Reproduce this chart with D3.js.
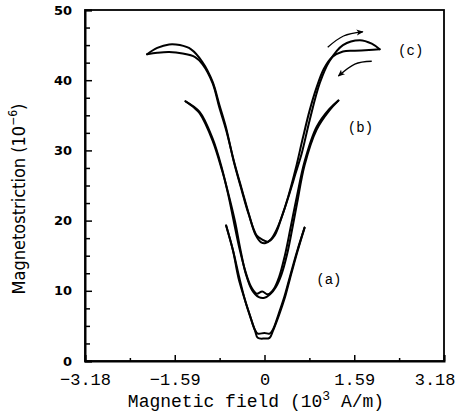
<!DOCTYPE html>
<html>
<head>
<meta charset="utf-8">
<script src="https://cdn.jsdelivr.net/npm/d3@7"></script>
<style>
  body { margin: 0; background: #fff; }
  svg { display: block; }
</style>
</head>
<body>
<div id="chart"></div>
<script>
// ---- data (field in 10^3 A/m, magnetostriction in 10^-6) ----
// curve (c): two sweep branches forming the butterfly loop
const cUpX   = [-2.08, -1.90, -1.69, -1.45, -1.23, -1.10, -0.92, -0.80, -0.68, -0.53, -0.40, -0.28, -0.16, -0.06, 0.02, 0.12, 0.22, 0.33, 0.44, 0.55, 0.66, 0.80, 0.98, 1.15, 1.39, 1.69, 1.90, 2.04];
const cUpY   = [43.7, 43.9, 44.0, 43.8, 43.3, 42.3, 39.6, 36.1, 32.9, 28.1, 24.4, 21.0, 18.0, 16.9, 16.8, 17.4, 18.8, 21.1, 23.8, 26.7, 29.6, 34.3, 39.6, 42.7, 45.0, 45.7, 45.2, 44.4];
const cDownX = [2.04, 1.85, 1.60, 1.39, 1.20, 1.05, 0.92, 0.80, 0.68, 0.55, 0.42, 0.30, 0.18, 0.06, -0.04, -0.14, -0.28, -0.40, -0.55, -0.68, -0.80, -0.92, -1.10, -1.30, -1.50, -1.69, -1.90, -2.08];
const cDownY = [44.4, 44.3, 44.2, 44.1, 43.3, 41.6, 38.9, 35.7, 31.8, 27.3, 23.4, 20.4, 17.9, 17.0, 17.3, 17.9, 20.9, 24.2, 28.6, 33.2, 36.5, 39.8, 42.6, 44.4, 45.0, 45.1, 44.6, 43.7];

// curve (b)
const bUpX   = [-1.40, -1.25, -1.15, -0.92, -0.75, -0.62, -0.52, -0.43, -0.33, -0.22, -0.10, 0.00, 0.10, 0.20, 0.30, 0.40, 0.50, 0.58, 0.71, 0.92, 1.15, 1.31];
const bUpY   = [37.0, 36.1, 35.3, 31.4, 27.1, 23.2, 19.8, 16.0, 12.4, 10.1, 9.1, 9.0, 9.5, 10.5, 12.3, 15.2, 19.2, 22.6, 27.9, 32.9, 35.7, 37.1];
const bDownX = [1.31, 1.15, 0.92, 0.71, 0.57, 0.46, 0.36, 0.26, 0.16, 0.06, -0.04, -0.14, -0.24, -0.34, -0.44, -0.54, -0.64, -0.76, -0.92, -1.15, -1.40];
const bDownY = [37.1, 35.9, 33.3, 28.4, 23.3, 18.9, 15.0, 12.0, 10.2, 9.5, 9.9, 9.6, 10.6, 12.8, 15.9, 19.7, 23.6, 27.6, 31.7, 35.5, 37.0];

// curve (a)
const aUpX   = [-0.68, -0.55, -0.45, -0.34, -0.24, -0.17, -0.12, 0.00, 0.09, 0.15, 0.26, 0.36, 0.45, 0.58, 0.71];
const aUpY   = [19.3, 15.5, 12.0, 8.5, 6.0, 4.4, 3.3, 3.2, 3.3, 4.3, 6.6, 9.0, 11.7, 15.5, 19.0];
const aDownX = [0.71, 0.58, 0.45, 0.35, 0.25, 0.15, 0.09, 0.00, -0.12, -0.18, -0.25, -0.35, -0.46, -0.56, -0.68];
const aDownY = [19.0, 15.7, 12.0, 9.1, 6.7, 4.5, 3.9, 4.0, 3.9, 4.6, 6.3, 8.8, 11.8, 15.8, 19.3];

// curve labels
const curveLabels = ['(a)', '(b)', '(c)'];
const labelX = [1.14, 1.70, 2.59];
const labelY = [11.6, 33.3, 44.3];

// sweep direction arrows near the top of curve (c)
const arrowUpX = [1.12, 1.40, 1.74];
const arrowUpY = [44.7, 46.3, 46.9];
const arrowDownX = [1.90, 1.60, 1.31];
const arrowDownY = [42.7, 42.3, 40.6];

// axes
const xMajorTicks = [-3.18, -1.59, 0, 1.59, 3.18];
const xTickLabels = ['\u22123.18', '\u22121.59', '0', '1.59', '3.18'];
const xMinorTicks = [-2.385, -0.795, 0.795, 2.385];
const yMajorTicks = [0, 10, 20, 30, 40, 50];
const yMinorTicks = [2.5, 5, 7.5, 12.5, 15, 17.5, 22.5, 25, 27.5, 32.5, 35, 37.5, 42.5, 45, 47.5];

// ---- layout ----
const W = 458, H = 416;
const margin = {top: 10, right: 14, bottom: 55, left: 85};
const width = W - margin.left - margin.right;
const height = H - margin.top - margin.bottom;

const svg = d3.select('#chart').append('svg')
    .attr('width', W)
    .attr('height', H);

const g = svg.append('g')
    .attr('transform', 'translate(' + margin.left + ',' + margin.top + ')');

const xScale = d3.scaleLinear().domain([-3.18, 3.18]).range([0, width]);
const yScale = d3.scaleLinear().domain([0, 50]).range([height, 0]);

// frame
g.append('rect')
    .attr('x', 0).attr('y', 0)
    .attr('width', width).attr('height', height)
    .attr('fill', 'none')
    .attr('stroke', '#000')
    .attr('stroke-width', 1.8);

// x axis (ticks pointing inward)
const xAxis = d3.axisBottom(xScale)
    .tickValues(xMajorTicks)
    .tickSize(-6)
    .tickPadding(12)
    .tickFormat((d, i) => xTickLabels[i]);

const xAxisGroup = g.append('g')
    .attr('class', 'x-axis')
    .attr('transform', 'translate(0,' + height + ')')
    .call(xAxis);

xAxisGroup.select('.domain').attr('stroke-width', 2);
xAxisGroup.selectAll('.tick line').attr('stroke-width', 1.5);
xAxisGroup.selectAll('.tick text')
    .attr('font-family', 'Liberation Mono, DejaVu Sans Mono, monospace')
    .attr('font-size', 17)
    .attr('fill', '#000');

// last label sits inside the window, right-aligned like the original
xAxisGroup.selectAll('.tick text')
    .filter((d, i) => i === xMajorTicks.length - 1)
    .attr('text-anchor', 'end')
    .attr('x', 11);

g.append('g')
    .attr('transform', 'translate(0,' + height + ')')
    .call(d3.axisBottom(xScale).tickValues(xMinorTicks).tickSize(-3).tickFormat(''))
    .call(s => s.select('.domain').remove())
    .selectAll('.tick line').attr('stroke-width', 1.5);

// y axis
const yAxis = d3.axisLeft(yScale)
    .tickValues(yMajorTicks)
    .tickSize(-7)
    .tickPadding(13);

const yAxisGroup = g.append('g')
    .attr('class', 'y-axis')
    .call(yAxis);

yAxisGroup.select('.domain').attr('stroke-width', 2);
yAxisGroup.selectAll('.tick line').attr('stroke-width', 1.5);
yAxisGroup.selectAll('.tick text')
    .attr('font-family', 'DejaVu Sans, sans-serif')
    .attr('font-weight', 'bold')
    .attr('font-size', 13)
    .attr('fill', '#000');

g.append('g')
    .call(d3.axisLeft(yScale).tickValues(yMinorTicks).tickSize(-5).tickFormat(''))
    .call(s => s.select('.domain').remove())
    .selectAll('.tick line').attr('stroke-width', 1.5);

// axis titles
const xTitle = svg.append('text')
    .attr('x', 256)
    .attr('y', 407)
    .attr('text-anchor', 'middle')
    .attr('font-family', 'Liberation Mono, DejaVu Sans Mono, monospace')
    .attr('font-size', 18)
    .attr('fill', '#000');
xTitle.append('tspan').text('Magnetic field (10');
xTitle.append('tspan').attr('dy', -7).attr('font-size', 13).text('3');
xTitle.append('tspan').attr('dy', 7).text(' A/m)');

const yTitle = svg.append('text')
    .attr('transform', 'translate(25,199) rotate(-90)')
    .attr('text-anchor', 'middle')
    .attr('font-family', 'Liberation Sans Narrow, DejaVu Sans Condensed, sans-serif')
    .attr('font-stretch', 'condensed')
    .attr('font-size', 18)
    .attr('fill', '#000');
yTitle.append('tspan').text('Magnetostriction (10');
yTitle.append('tspan').attr('dy', -8).attr('font-size', 12).text('\u22126');
yTitle.append('tspan').attr('dy', 8).text(')');

// curves
const line = d3.line()
    .x(d => xScale(d[0]))
    .y(d => yScale(d[1]))
    .curve(d3.curveCatmullRom.alpha(0.5));

const branches = [
    [cUpX, cUpY], [cDownX, cDownY],
    [bUpX, bUpY], [bDownX, bDownY],
    [aUpX, aUpY], [aDownX, aDownY]
];

g.selectAll('.branch')
    .data(branches.map(b => d3.zip(b[0], b[1])))
    .join('path')
    .attr('class', 'branch')
    .attr('d', line)
    .attr('fill', 'none')
    .attr('stroke', '#000')
    .attr('stroke-width', 2)
    .attr('stroke-linejoin', 'round')
    .attr('stroke-linecap', 'round');

// curve labels
g.selectAll('.curve-label')
    .data(curveLabels)
    .join('text')
    .attr('class', 'curve-label')
    .attr('x', (d, i) => xScale(labelX[i]))
    .attr('y', (d, i) => yScale(labelY[i]))
    .attr('dy', '0.35em')
    .attr('text-anchor', 'middle')
    .attr('font-family', 'Liberation Mono, DejaVu Sans Mono, monospace')
    .attr('font-size', 14)
    .attr('fill', '#000')
    .text(d => d);

// arrows
svg.append('defs').append('marker')
    .attr('id', 'head')
    .attr('viewBox', '0 -4 8 8')
    .attr('refX', 7)
    .attr('refY', 0)
    .attr('markerWidth', 7)
    .attr('markerHeight', 7)
    .attr('markerUnits', 'userSpaceOnUse')
    .attr('orient', 'auto')
    .append('path')
    .attr('d', 'M0,-3.5L8,0L0,3.5L2,0Z')
    .attr('fill', '#000');

const arrowLine = d3.line()
    .x(d => xScale(d[0]))
    .y(d => yScale(d[1]))
    .curve(d3.curveNatural);

g.selectAll('.arrow')
    .data([d3.zip(arrowUpX, arrowUpY), d3.zip(arrowDownX, arrowDownY)])
    .join('path')
    .attr('class', 'arrow')
    .attr('d', arrowLine)
    .attr('fill', 'none')
    .attr('stroke', '#000')
    .attr('stroke-width', 1.3)
    .attr('marker-end', 'url(#head)');
</script>
</body>
</html>
